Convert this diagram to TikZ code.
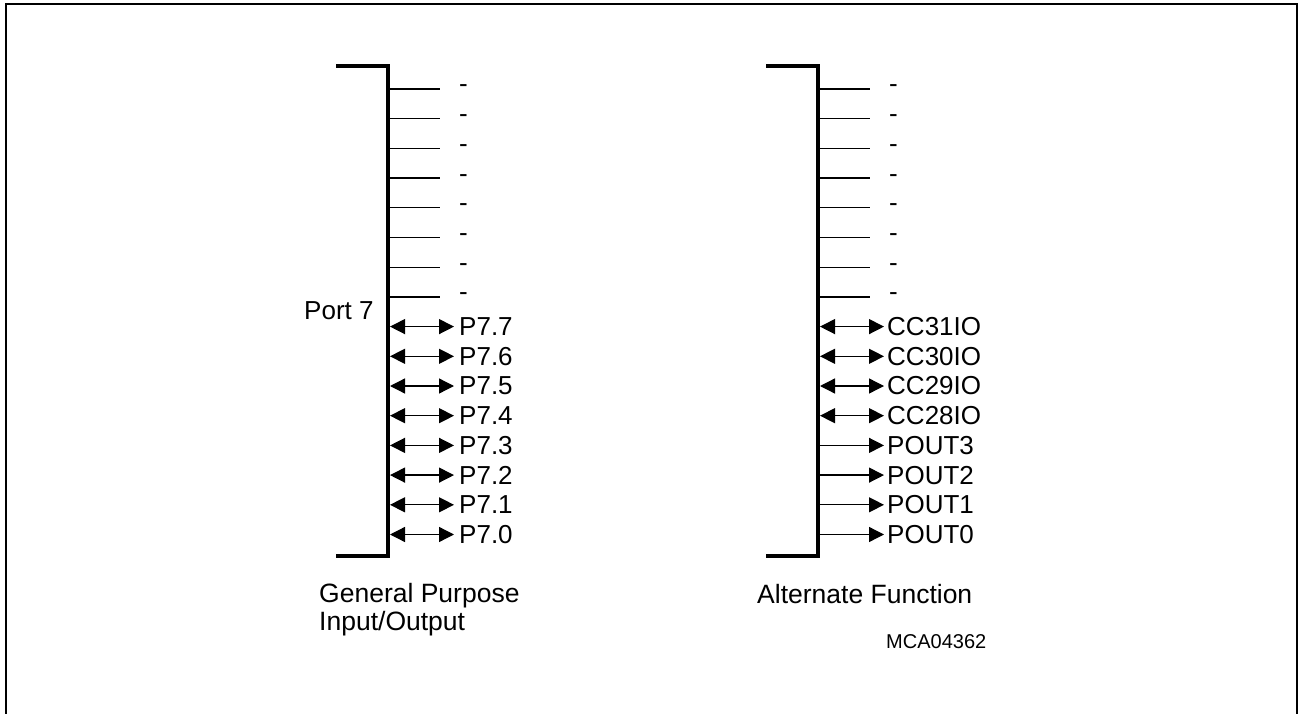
\documentclass[tikz,border=0pt]{standalone}
\usepackage{fontspec}
\setmainfont{Liberation Sans}
\usetikzlibrary{arrows.meta}
\tikzset{
  frameline/.style={line width=2.2pt},
  bracketline/.style={line width=4pt},
  tickline/.style={line width=1.3pt},
  headtip/.tip={Triangle[length=15pt,width=15pt]},
  bidir/.style={tickline,{headtip}-{headtip}},
  outdir/.style={tickline,-{headtip}},
  lbl/.style={anchor=west,inner sep=0pt,font=\fontsize{26}{30}\selectfont},
  captxt/.style={anchor=base west,inner sep=0pt,font=\fontsize{26.5}{28}\selectfont,align=left},
  smalltxt/.style={anchor=base west,inner sep=0pt,font=\fontsize{20}{24}\selectfont}
}
\begin{document}
\begin{tikzpicture}[x=1pt,y=-1pt]
\useasboundingbox (0,0) rectangle (1298,714);
% outer frame (open at bottom)
\coordinate (f1) at (6,714);
\coordinate (f2) at (6,4);
\coordinate (f3) at (1297,4);
\coordinate (f4) at (1297,714);
\draw[frameline] (f1) -- (f2) -- (f3) -- (f4);

% left bracket
\coordinate (L1) at (336,66);
\coordinate (L2) at (388,66);
\coordinate (L3) at (388,556);
\coordinate (L4) at (336,556);
\draw[bracketline] (L1) -- (L2) -- (L3) -- (L4);

% right bracket
\coordinate (R1) at (766,66);
\coordinate (R2) at (818,66);
\coordinate (R3) at (818,556);
\coordinate (R4) at (766,556);
\draw[bracketline] (R1) -- (R2) -- (R3) -- (R4);

% unused lines
\foreach \i in {0,...,7}{
  \pgfmathsetmacro{\yy}{89+29.7*\i}
  \coordinate (la\i) at (388,\yy);
  \coordinate (lb\i) at (440,\yy);
  \draw[tickline] (la\i) -- (lb\i);
  \node[lbl] (ld\i) at (459,\yy) {-};
  \coordinate (ra\i) at (818,\yy);
  \coordinate (rb\i) at (870,\yy);
  \draw[tickline] (ra\i) -- (rb\i);
  \node[lbl] (rd\i) at (889,\yy) {-};
}

% left port pins
\foreach \i/\t in {8/P7.7,9/P7.6,10/P7.5,11/P7.4,12/P7.3,13/P7.2,14/P7.1,15/P7.0}{
  \pgfmathsetmacro{\yy}{89+29.7*\i}
  \coordinate (la\i) at (390,\yy);
  \coordinate (lb\i) at (454,\yy);
  \draw[bidir] (la\i) -- (lb\i);
  \node[lbl] (ld\i) at (459,\yy) {\t};
}

% right alternate functions (bidirectional)
\foreach \i/\t in {8/CC31IO,9/CC30IO,10/CC29IO,11/CC28IO}{
  \pgfmathsetmacro{\yy}{89+29.7*\i}
  \coordinate (ra\i) at (820,\yy);
  \coordinate (rb\i) at (884,\yy);
  \draw[bidir] (ra\i) -- (rb\i);
  \node[lbl] (rd\i) at (887,\yy) {\t};
}
% right alternate functions (outputs)
\foreach \i/\t in {12/POUT3,13/POUT2,14/POUT1,15/POUT0}{
  \pgfmathsetmacro{\yy}{89+29.7*\i}
  \coordinate (ra\i) at (818,\yy);
  \coordinate (rb\i) at (884,\yy);
  \draw[outdir] (ra\i) -- (rb\i);
  \node[lbl] (rd\i) at (887,\yy) {\t};
}

% labels
\node[lbl] (port) at (304,311) {Port 7};
\node[captxt] (gp1) at (319,602) {General Purpose};
\node[captxt] (gp2) at (319,630) {Input/Output};
\node[captxt] (af) at (757,603) {Alternate Function};
\node[smalltxt] (id) at (886,648) {MCA04362};
\end{tikzpicture}
\end{document}
